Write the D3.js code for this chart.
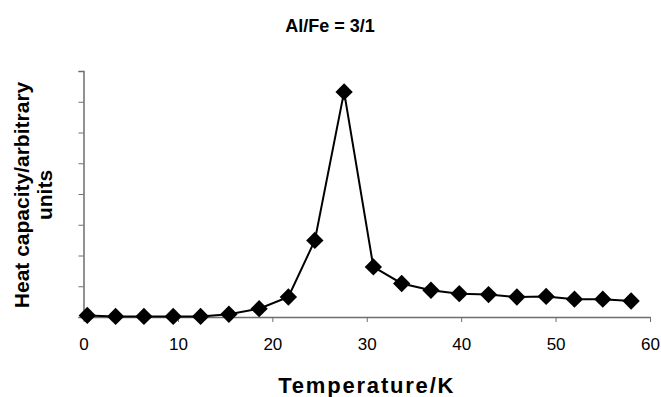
<!DOCTYPE html>
<html>
<head>
<meta charset="utf-8">
<script src="https://cdn.jsdelivr.net/npm/d3@7"></script>
<style>
  body { margin: 0; background: #fff; }
  svg { display: block; font-family: "Liberation Sans", Arial, sans-serif; }
</style>
</head>
<body>
<div id="chart"></div>
<script>
const temperature = [0.4, 3.4, 6.4, 9.5, 12.4, 15.4, 18.6, 21.7, 24.5, 27.6, 30.7, 33.7, 36.8, 39.8, 42.9, 45.9, 49.0, 52.0, 55.0, 58.0];
const heatCapacity = [0.05, 0.02, 0.02, 0.02, 0.02, 0.09, 0.27, 0.65, 2.49, 7.32, 1.63, 1.09, 0.87, 0.76, 0.73, 0.65, 0.67, 0.58, 0.58, 0.52];
const xTicks = [0, 10, 20, 30, 40, 50, 60];
const yTicks = [0, 1, 2, 3, 4, 5, 6, 7, 8];

const width = 661, height = 397;
const margin = { top: 71, right: 11, bottom: 80, left: 83.5 };
const innerW = width - margin.left - margin.right;
const innerH = height - margin.top - margin.bottom;

const svg = d3.select('#chart')
  .append('svg')
  .attr('width', width)
  .attr('height', height);

const g = svg.append('g')
  .attr('transform', `translate(${margin.left},${margin.top})`);

const x = d3.scaleLinear().domain([0, 60]).range([0, innerW]);
const y = d3.scaleLinear().domain([0, 8]).range([innerH, 0]);

const axisColor = '#6e6e6e';

// y axis, no labels
const yAxis = g.append('g')
  .call(d3.axisLeft(y).tickValues(yTicks).tickSize(5).tickFormat(''));
yAxis.select('.domain').attr('stroke', axisColor).attr('stroke-width', 1.5);
yAxis.selectAll('.tick line').attr('stroke', axisColor);

// x axis
const xAxis = g.append('g')
  .attr('transform', `translate(0,${innerH})`)
  .call(d3.axisBottom(x).tickValues(xTicks).tickSize(5).tickSizeOuter(0).tickPadding(16));
xAxis.select('.domain').attr('stroke', axisColor).attr('stroke-width', 1.5);
xAxis.selectAll('.tick line').attr('stroke', axisColor);
xAxis.selectAll('text')
  .attr('fill', '#000')
  .style('font-size', '17px');

const data = temperature.map((t, i) => [t, heatCapacity[i]]);

g.append('path')
  .datum(data)
  .attr('fill', 'none')
  .attr('stroke', '#000')
  .attr('stroke-width', 2)
  .attr('d', d3.line().x(d => x(d[0])).y(d => y(d[1])));

g.selectAll('.pt')
  .data(data)
  .enter()
  .append('path')
  .attr('class', 'pt')
  .attr('d', d3.symbol().type(d3.symbolSquare).size(150))
  .attr('transform', d => `translate(${x(d[0])},${y(d[1])}) rotate(45)`)
  .attr('fill', '#000');

// title
svg.append('text')
  .attr('x', 330)
  .attr('y', 31.5)
  .attr('text-anchor', 'middle')
  .style('font-size', '18px')
  .style('font-weight', 'bold')
  .text('Al/Fe = 3/1');

// x title
svg.append('text')
  .attr('x', margin.left + innerW / 2)
  .attr('y', 393)
  .attr('text-anchor', 'middle')
  .style('font-size', '22px')
  .style('font-weight', 'bold')
  .style('letter-spacing', '1.8px')
  .text('Temperature/K');

// y title, two lines
const yt = svg.append('text')
  .attr('transform', 'translate(0,195) rotate(-90)')
  .attr('text-anchor', 'middle')
  .style('font-size', '21px')
  .style('font-weight', 'bold');
yt.append('tspan').attr('x', 0).attr('y', 29).text('Heat capacity/arbitrary');
yt.append('tspan').attr('x', 0).attr('y', 52).text('units');
</script>
</body>
</html>
